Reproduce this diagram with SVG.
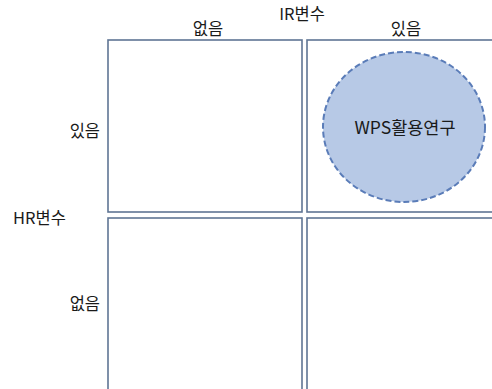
<svg xmlns="http://www.w3.org/2000/svg" width="492" height="389" viewBox="0 0 492 389">
<style>
.cell{fill:#ffffff;stroke:#5f7594;stroke-width:1.6}
.t{font-family:"Noto Sans CJK KR","Noto Sans",sans-serif;font-size:16.5px;fill:#1a1a1a}
</style>
<rect width="492" height="389" fill="#ffffff"/>
<g id="cell-tl"><rect class="cell" x="108" y="40" width="194" height="172"/></g>
<g id="cell-tr"><rect class="cell" x="307" y="40" width="200" height="172"/></g>
<g id="cell-bl"><rect class="cell" x="108" y="218" width="194" height="190"/></g>
<g id="cell-br"><rect class="cell" x="307" y="218" width="200" height="190"/></g>
<g id="wps"><ellipse cx="404" cy="127" rx="81" ry="75" fill="#b7c9e6" stroke="#5a7cb8" stroke-width="2" stroke-dasharray="6,3"/>
<text class="t" x="405" y="134" text-anchor="middle" style="font-size:17.5px" fill="#222">WPS활용연구</text></g>
<g id="labels">
<text class="t" x="302" y="20" text-anchor="middle">IR변수</text>
<text class="t" x="208" y="35" text-anchor="middle">없음</text>
<text class="t" x="406" y="35" text-anchor="middle">있음</text>
<text class="t" x="100" y="137" text-anchor="end">있음</text>
<text class="t" x="13" y="224">HR변수</text>
<text class="t" x="100" y="310" text-anchor="end">없음</text>
</g>
<g id="connectors"></g>
</svg>
